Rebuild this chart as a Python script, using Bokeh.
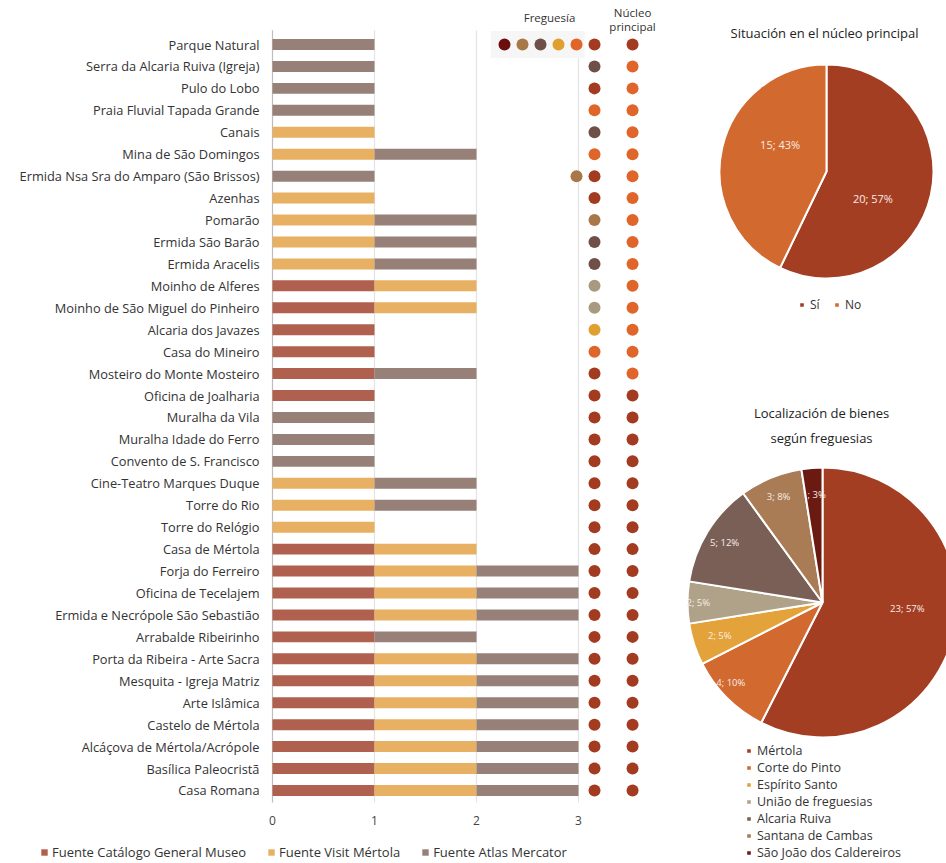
import math
from bokeh.plotting import figure
from bokeh.models import Range1d, FixedTicker, Legend, LegendItem, ColumnDataSource
from bokeh.embed import file_html
from bokeh.resources import INLINE
from bokeh.core.properties import value

# ---------------- data ----------------
sites = [
    "Parque Natural", "Serra da Alcaria Ruiva (Igreja)", "Pulo do Lobo",
    "Praia Fluvial Tapada Grande", "Canais", "Mina de São Domingos",
    "Ermida Nsa Sra do Amparo (São Brissos)", "Azenhas", "Pomarão",
    "Ermida São Barão", "Ermida Aracelis", "Moinho de Alferes",
    "Moinho de São Miguel do Pinheiro", "Alcaria dos Javazes", "Casa do Mineiro",
    "Mosteiro do Monte Mosteiro", "Oficina de Joalharia", "Muralha da Vila",
    "Muralha Idade do Ferro", "Convento de S. Francisco", "Cine-Teatro Marques Duque",
    "Torre do Rio", "Torre do Relógio", "Casa de Mértola", "Forja do Ferreiro",
    "Oficina de Tecelajem", "Ermida e Necrópole São Sebastião", "Arrabalde Ribeirinho",
    "Porta da Ribeira - Arte Sacra", "Mesquita - Igreja Matriz", "Arte Islâmica",
    "Castelo de Mértola", "Alcáçova de Mértola/Acrópole", "Basílica Paleocristã",
    "Casa Romana",
]
catalogo = [0, 0, 0, 0, 0, 0, 0, 0, 0, 0, 0, 1, 1, 1, 1, 1, 1, 0, 0, 0, 0, 0, 0, 1,
            1, 1, 1, 1, 1, 1, 1, 1, 1, 1, 1]
visit = [0, 0, 0, 0, 1, 1, 0, 1, 1, 1, 1, 1, 1, 0, 0, 0, 0, 0, 0, 0, 1, 1, 1, 1,
         1, 1, 1, 0, 1, 1, 1, 1, 1, 1, 1]
atlas = [1, 1, 1, 1, 0, 1, 1, 0, 1, 1, 1, 0, 0, 0, 0, 1, 0, 1, 1, 1, 1, 1, 0, 0,
         1, 1, 1, 1, 1, 1, 1, 1, 1, 1, 1]
site_freguesias = [
    ["São João dos Caldereiros", "Santana de Cambas", "Alcaria Ruiva",
     "Espírito Santo", "Corte do Pinto", "Mértola"],
    ["Alcaria Ruiva"], ["Mértola"], ["Corte do Pinto"], ["Alcaria Ruiva"],
    ["Corte do Pinto"], ["Santana de Cambas", "Mértola"], ["Mértola"],
    ["Santana de Cambas"], ["Alcaria Ruiva"], ["Alcaria Ruiva"],
    ["União de freguesias"], ["União de freguesias"], ["Espírito Santo"],
    ["Corte do Pinto"],
] + [["Mértola"]] * 20
site_nucleo = ["Sí"] + ["No"] * 15 + ["Sí"] * 19

fuentes = ["Fuente Catálogo General Museo", "Fuente Visit Mértola", "Fuente Atlas Mercator"]
x_ticks = [0, 1, 2, 3]

freguesias = ["Mértola", "Corte do Pinto", "Espírito Santo", "União de freguesias",
              "Alcaria Ruiva", "Santana de Cambas", "São João dos Caldereiros"]
freguesia_counts = [23, 4, 2, 2, 5, 3, 1]
freguesia_pcts = ["57%", "10%", "5%", "5%", "12%", "8%", "3%"]

nucleo_cats = ["Sí", "No"]
nucleo_counts = [20, 15]
nucleo_pcts = ["57%", "43%"]

# ---------------- styles / layout ----------------
FONT = value("Open Sans")
bar_colors = ["#B0604F", "#E8B062", "#968078"]
freg_colors = {
    "Mértola": "#A33B20", "Corte do Pinto": "#E0652A", "Espírito Santo": "#E0A030",
    "União de freguesias": "#A89A80", "Alcaria Ruiva": "#6E5048",
    "Santana de Cambas": "#A87848", "São João dos Caldereiros": "#6A0E0E",
}
pie_freg_colors = ["#A33E23", "#D2692F", "#E3A33A", "#B0A289", "#7A5F56", "#A97C56", "#6A1A10"]
nucleo_colors = {"Sí": "#A33B20", "No": "#E0652A"}
pie_nucleo_colors = ["#A33E23", "#D2692F"]

W, H = 946, 862
X0, UX = 272, 102.0        # pixel of x = 0, pixels per unit
Y_TOP, UY = 44, 21.94      # pixel of the first row, pixels per row

n = len(sites)
ypos = [n - 1 - i for i in range(n)]
y_end = (n - 1) + Y_TOP / UY
y_start = (n - 1) - (H - Y_TOP) / UY

p = figure(width=W, height=H, x_range=Range1d(-X0 / UX, (W - X0) / UX),
           y_range=Range1d(y_start, y_end), toolbar_location=None, output_backend="svg",
           min_border=0)
p.extra_x_ranges = {"px": Range1d(0, W)}
p.extra_y_ranges = {"py": Range1d(-H, 0)}
p.outline_line_color = None
p.xgrid.visible = False
p.ygrid.visible = False

# header background behind the first row of freguesia dots
p.quad(left=[2.14], right=[3.06], bottom=[n - 1 - 0.62], top=[n - 1 + 0.62],
       fill_color="#F6F6F6", line_color=None)

# grid lines
p.segment(x0=x_ticks, y0=[-0.55] * 4, x1=x_ticks,
          y1=[n - 1 + 0.65, n - 1 + 0.65, n - 1 + 0.65, n - 1 - 0.62],
          line_color=["#BDBDBD", "#E3E3E3", "#E3E3E3", "#E3E3E3"], line_width=1.2)

src = ColumnDataSource(dict(y=ypos, c=catalogo, v=visit, a=atlas))
bars = p.hbar_stack(["c", "v", "a"], y="y", height=0.5, color=bar_colors,
                    line_color=None, source=src)

FX, FSTEP, NX = 3.157, 0.1765, 3.53
dx, dy, dc = [], [], []
for i, fl in enumerate(site_freguesias):
    k = len(fl)
    for j, f in enumerate(fl):
        dx.append(FX - (k - 1 - j) * FSTEP)
        dy.append(ypos[i])
        dc.append(freg_colors[f])
p.scatter(dx, dy, size=12, color=dc, line_color=None)
p.scatter([NX] * n, ypos, size=12, color=[nucleo_colors[s] for s in site_nucleo], line_color=None)

p.text(x=[2.716, NX, NX], y=[y_end - 17 / UY, y_end - 12 / UY, y_end - 26 / UY],
       text=["Freguesía", "Núcleo", "principal"],
       text_align="center", text_baseline="middle", text_font=FONT,
       text_font_size="11.5px", text_color="#333333")

p.yaxis.fixed_location = 0
p.yaxis.ticker = FixedTicker(ticks=ypos)
p.yaxis.major_label_overrides = {y: s for y, s in zip(ypos, sites)}
p.yaxis.axis_line_color = None
p.yaxis.major_tick_line_color = None
p.yaxis.major_tick_out = 0
p.yaxis.minor_tick_line_color = None
p.yaxis.major_label_standoff = 13
p.yaxis.major_label_text_font = "Open Sans"
p.yaxis.major_label_text_font_size = "12.8px"
p.yaxis.major_label_text_color = "#333333"

p.xaxis.fixed_location = -0.5
p.xaxis.ticker = FixedTicker(ticks=x_ticks)
p.xaxis.axis_line_color = None
p.xaxis.major_tick_line_color = None
p.xaxis.minor_tick_line_color = None
p.xaxis.major_label_standoff = 9
p.xaxis.major_label_text_font = "Open Sans"
p.xaxis.major_label_text_font_size = "12px"
p.xaxis.major_label_text_color = "#444444"

leg = Legend(items=[LegendItem(label=fuentes[k], renderers=[bars[k]]) for k in range(3)],
             orientation="horizontal", location=(40, 1), padding=0, margin=0,
             spacing=21, label_standoff=4, glyph_width=8, glyph_height=8,
             label_text_font="Open Sans", label_text_font_size="13px",
             label_text_color="#333333", border_line_color=None,
             background_fill_alpha=0)
p.add_layout(leg)

# ---------------- pies ----------------
def pie(cx, cy, r, counts, pcts, colors, label_fracs, label_shifts, font_size):
    total = sum(counts)
    starts, ends, lx, ly, txt = [], [], [], [], []
    cum = 0
    for c, pc, f, s in zip(counts, pcts, label_fracs, label_shifts):
        starts.append(math.pi / 2 - 2 * math.pi * (cum + c) / total)
        ends.append(math.pi / 2 - 2 * math.pi * cum / total)
        mid = math.pi / 2 - 2 * math.pi * (cum + c / 2) / total - math.radians(s)
        lx.append(cx + f * r * math.cos(mid))
        ly.append(cy + f * r * math.sin(mid))
        txt.append(f"{c}; {pc}")
        cum += c
    wr = p.wedge(x=[cx] * len(counts), y=[cy] * len(counts), radius=r,
                 start_angle=starts, end_angle=ends, fill_color=colors,
                 line_color="white", line_width=2, x_range_name="px", y_range_name="py")
    p.text(x=lx, y=ly, text=txt, text_align="center", text_baseline="middle",
           text_font=FONT, text_font_size=font_size, text_color="#F8EDE6",
           x_range_name="px", y_range_name="py")
    return wr


w1 = pie(826, -171, 107, nucleo_counts, nucleo_pcts, pie_nucleo_colors,
         [0.5, 0.5], [17, 17], "11px")
p.text(x=[824], y=[-32], text=["Situación en el núcleo principal"], text_align="center",
       text_baseline="middle", text_font=FONT, text_font_size="13px", text_color="#222222",
       x_range_name="px", y_range_name="py")
leg1 = Legend(items=[LegendItem(label=nucleo_cats[k], renderers=[w1], index=k) for k in range(2)],
              orientation="horizontal", location=(798, H - 313), padding=0, margin=0,
              spacing=11, label_standoff=5, glyph_width=7, glyph_height=7, label_width=12,
              label_text_font="Open Sans", label_text_font_size="12px",
              label_text_color="#333333", border_line_color=None, background_fill_alpha=0)
p.add_layout(leg1)

w2 = pie(822, -602, 135, freguesia_counts, freguesia_pcts, pie_freg_colors,
         [0.63, 0.9, 0.8, 0.92, 0.85, 0.85, 0.8], [-9.5, 4, 0, 0, 0, 0, 0], "9.5px")
p.text(x=[821, 821], y=[-412, -437], text=["Localización de bienes", "según freguesias"],
       text_align="center", text_baseline="middle", text_font=FONT,
       text_font_size="13px", text_color="#222222", x_range_name="px", y_range_name="py")
leg2 = Legend(items=[LegendItem(label=freguesias[k], renderers=[w2], index=k) for k in range(7)],
              orientation="vertical", location=(745, 1), padding=0, margin=0,
              spacing=0, label_standoff=5, glyph_width=7, glyph_height=7, label_height=14,
              label_text_font="Open Sans", label_text_font_size="12.5px",
              label_text_color="#333333", border_line_color=None, background_fill_alpha=0)
p.add_layout(leg2)

open("out.html", "w").write(file_html(p, INLINE))
